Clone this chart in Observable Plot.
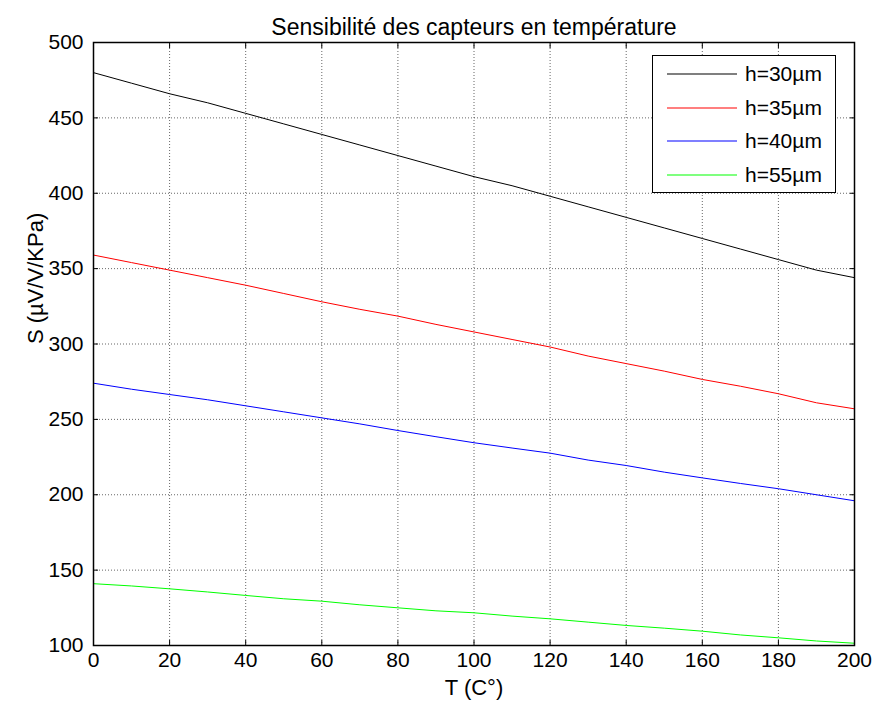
<!DOCTYPE html>
<html>
<head>
<meta charset="utf-8">
<script src="https://cdn.jsdelivr.net/npm/d3@7"></script>
<script src="https://cdn.jsdelivr.net/npm/@observablehq/plot@0.6"></script>
<style>
  html, body { margin: 0; padding: 0; background: #fff; }
  #wrap { position: relative; width: 879px; height: 713px; font-family: "Liberation Sans", Arial, sans-serif; }
  #legend { position: absolute; left: 652px; top: 55px; width: 184px; height: 138px; background: #fff; border: 1px solid #000; box-sizing: border-box; }
  .row { position: absolute; left: 0; height: 30px; display: flex; align-items: center; }
  .sw { display: block; width: 70px; height: 2px; margin-left: 14px; margin-right: 8px; }
  .sw svg { display: block; overflow: visible; }
  .lab { font-size: 21px; color: #000; }
</style>
</head>
<body>
<div id="wrap"></div>
<script>
const T = [0,10,20,30,40,50,60,70,80,90,100,110,120,130,140,150,160,170,180,190,200];
const s30 = [480,473,466,460,453,446,439,432,425,418,411,405,398,391,384,377,370,363,356,349,344];
const s35 = [359,354,349,344,339,333.5,328,323,318.5,313,308,303,298,292,287,282,276.5,272,267,261,257];
const s40 = [274,270,266.5,263,259,255,251,247,242.6,238.5,234.5,231,227.6,223,219.4,215,211.2,207.5,204,200,196];
const s55 = [141,139.5,137.6,135.5,133.2,131,129.4,127,125,123,121.7,119.5,117.7,115.5,113.3,111.5,109.5,107,105.1,103,101.5];
const seriesNames = ["h=30µm","h=35µm","h=40µm","h=55µm"];
const seriesColors = ["#000000","#ff0000","#0000ff","#00ff00"];
const xTicks = [0,20,40,60,80,100,120,140,160,180,200];
const yTicks = [100,150,200,250,300,350,400,450,500];
const title = "Sensibilité des capteurs en température";
const xLabel = "T (C°)";
const yLabel = "S (µV/V/KPa)";

const allSeries = [s30, s35, s40, s55];
const table = [];
allSeries.forEach((s, i) => s.forEach((v, j) => table.push({T: T[j], S: v, series: seriesNames[i]})));

const font = "Liberation Sans, Arial, sans-serif";
const chart = Plot.plot({
  width: 879,
  height: 713,
  marginTop: 42,
  marginLeft: 93,
  marginRight: 25,
  marginBottom: 68,
  style: {fontFamily: font, fontSize: "21px", color: "#000", background: "#fff"},
  x: {domain: [0, 200]},
  y: {domain: [100, 500]},
  color: {domain: seriesNames, range: seriesColors},
  marks: [
    Plot.gridX(xTicks, {stroke: "#000", strokeOpacity: 0.6, strokeDasharray: "1,2"}),
    Plot.gridY(yTicks, {stroke: "#000", strokeOpacity: 0.6, strokeDasharray: "1,2"}),
    Plot.lineY(table, {x: "T", y: "S", z: "series", stroke: "series", strokeWidth: 1}),
    Plot.frame({stroke: "#000", strokeWidth: 1.5}),
    Plot.axisX(xTicks, {anchor: "bottom", tickSize: -5, tickPadding: 12, label: null, fontSize: 21}),
    Plot.axisX(xTicks, {anchor: "top", tickSize: -5, tickFormat: () => "", label: null}),
    Plot.axisY(yTicks, {anchor: "left", tickSize: -5, tickPadding: 15, label: null, fontSize: 21}),
    Plot.axisY(yTicks, {anchor: "right", tickSize: -5, tickFormat: () => "", label: null}),
    Plot.text([title], {frameAnchor: "top", dy: -24, fontSize: 23}),
    Plot.text([xLabel], {frameAnchor: "bottom", dy: 49, fontSize: 22}),
    Plot.text([yLabel], {frameAnchor: "left", dx: -58, rotate: -90, fontSize: 22})
  ]
});
const wrap = document.getElementById("wrap");
wrap.appendChild(chart);

const legend = document.createElement("div");
legend.id = "legend";
const rowTops = [3, 37, 70, 104];
seriesNames.forEach((name, i) => {
  const row = document.createElement("div");
  row.className = "row";
  row.style.top = rowTops[i] + "px";
  const sw = document.createElement("span");
  sw.className = "sw";
  sw.innerHTML = `<svg width="70" height="2" viewBox="0 0 70 2"><line x1="0" x2="70" y1="1" y2="1" stroke="${seriesColors[i]}" stroke-width="1.2"/></svg>`;
  const lab = document.createElement("span");
  lab.className = "lab";
  lab.textContent = name;
  row.appendChild(sw);
  row.appendChild(lab);
  legend.appendChild(row);
});
wrap.appendChild(legend);
</script>
</body>
</html>
